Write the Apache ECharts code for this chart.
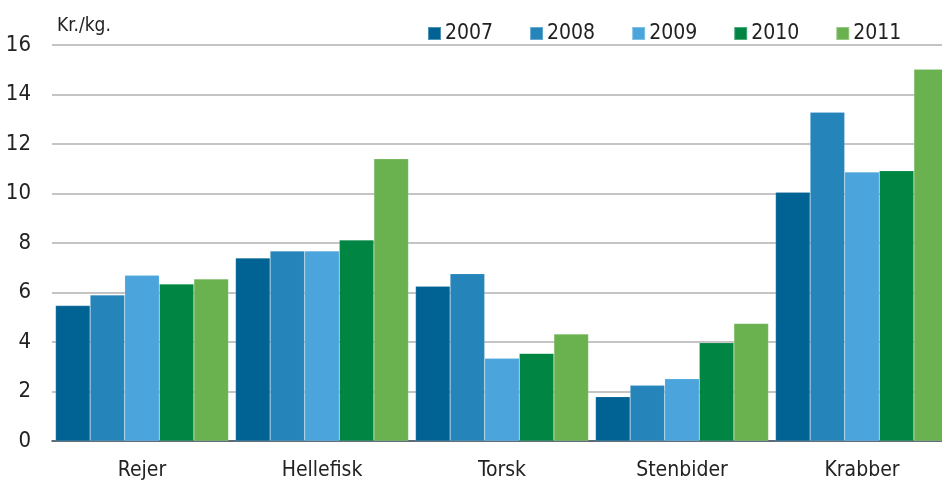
<!DOCTYPE html>
<html>
<head>
<meta charset="utf-8">
<script src="https://cdn.jsdelivr.net/npm/echarts@6/dist/echarts.min.js"></script>
<style>
    html, body { margin: 0; padding: 0; background: #fff; overflow: hidden; }
    /* plottet fortsætter lidt ud over højre kant, som i originalen */
    #chart { width: 952px; height: 481px; }
</style>
</head>
<body>
<div id="chart"></div>
<script>
// kategorier og år
const categories = ['Rejer', 'Hellefisk', 'Torsk', 'Stenbider', 'Krabber']
const years = ['2007', '2008', '2009', '2010', '2011']

// kr. pr. kg, en række pr. år
const v2007 = [5.47, 7.39, 6.25, 1.79, 10.05]
const v2008 = [5.9, 7.68, 6.76, 2.25, 13.28]
const v2009 = [6.7, 7.68, 3.34, 2.52, 10.87]
const v2010 = [6.34, 8.12, 3.54, 3.97, 10.92]
const v2011 = [6.55, 11.4, 4.32, 4.75, 15.02]

const yTicks = [0, 2, 4, 6, 8, 10, 12, 14, 16]

const colors = ['#006394', '#2585ba', '#4ba5dc', '#008542', '#6ab150']
const font = '"Liberation Sans Narrow", "DejaVu Sans Condensed", "Open Sans", sans-serif'

const seriesData = [v2007, v2008, v2009, v2010, v2011]

const myChart = echarts.init(document.getElementById('chart'))

const option = {
    animation: false,
    color: colors,
    textStyle: { fontFamily: font },
    grid: {
        left: 52,
        right: 0,
        top: 45,
        bottom: 40,
        containLabel: false
    },
    legend: {
        data: years,
        left: 427,
        top: 23,
        padding: 0,
        icon: 'rect',
        itemWidth: 13,
        itemHeight: 13,
        itemGap: 36,
        textStyle: {
            color: '#222',
            fontSize: 21,
            fontFamily: font,
            padding: [0, 0, 0, -1]
        }
    },
    title: {
        text: 'Kr./kg.',
        left: 52,
        top: 12,
        textStyle: {
            fontSize: 19,
            fontWeight: 'normal',
            color: '#222',
            fontFamily: font
        }
    },
    xAxis: {
        type: 'category',
        data: categories,
        axisTick: { show: false },
        axisLine: { lineStyle: { color: '#3d4d5e', width: 1.5 } },
        axisLabel: {
            color: '#222',
            fontSize: 21,
            margin: 19,
            fontFamily: font
        }
    },
    yAxis: {
        type: 'value',
        min: yTicks[0],
        max: yTicks[yTicks.length - 1],
        interval: 2,
        axisLine: { show: false },
        axisTick: { show: false },
        axisLabel: {
            color: '#222',
            fontSize: 22,
            margin: 21,
            fontFamily: font
        },
        splitLine: { lineStyle: { color: '#c4c4c4', width: 2 } }
    },
    series: years.map((y, i) => {
        return {
            name: y,
            type: 'bar',
            data: seriesData[i],
            barGap: '0%',
            barCategoryGap: '3.9%',
            itemStyle: {
                borderColor: 'rgba(255,255,255,0.3)',
                borderWidth: 0.5
            }
        }
    })
}

myChart.setOption(option)
</script>
</body>
</html>
